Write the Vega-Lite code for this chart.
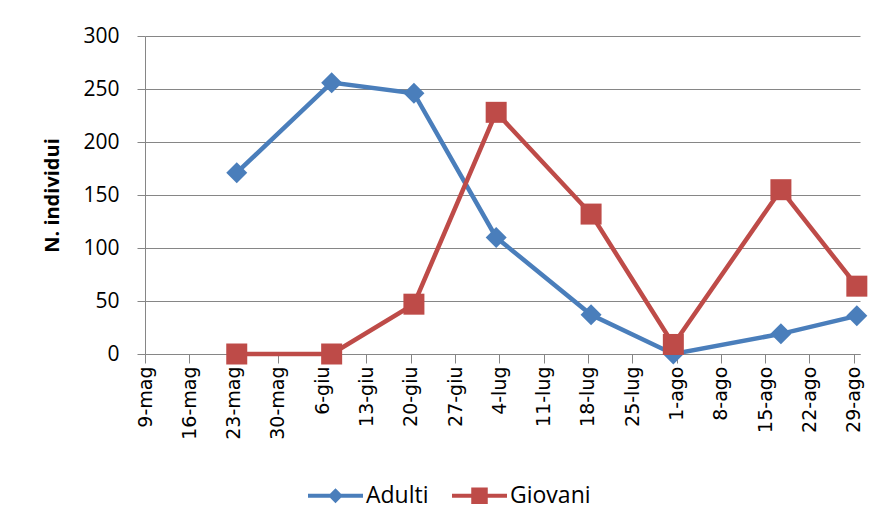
{
  "$schema": "https://vega.github.io/schema/vega-lite/v6.json",
  "width": 715,
  "height": 318,
  "autosize": "none",
  "padding": {"left": 145, "top": 36, "right": 17, "bottom": 177},
  "background": "white",
  "config": {"view": {"stroke": null}, "font": "Open Sans"},
  "data": {
    "values": [
      {"data": "2010-05-23", "serie": "Adulti", "valore": 171},
      {"data": "2010-06-07", "serie": "Adulti", "valore": 256},
      {"data": "2010-06-20", "serie": "Adulti", "valore": 246},
      {"data": "2010-07-03", "serie": "Adulti", "valore": 110},
      {"data": "2010-07-18", "serie": "Adulti", "valore": 37},
      {"data": "2010-07-31", "serie": "Adulti", "valore": 0},
      {"data": "2010-08-17", "serie": "Adulti", "valore": 19},
      {"data": "2010-08-29", "serie": "Adulti", "valore": 36},
      {"data": "2010-05-23", "serie": "Giovani", "valore": 0},
      {"data": "2010-06-07", "serie": "Giovani", "valore": 0},
      {"data": "2010-06-20", "serie": "Giovani", "valore": 47},
      {"data": "2010-07-03", "serie": "Giovani", "valore": 228},
      {"data": "2010-07-18", "serie": "Giovani", "valore": 132},
      {"data": "2010-07-31", "serie": "Giovani", "valore": 9},
      {"data": "2010-08-17", "serie": "Giovani", "valore": 155},
      {"data": "2010-08-29", "serie": "Giovani", "valore": 64}
    ]
  },
  "encoding": {
    "x": {
      "field": "data",
      "type": "temporal",
      "timeUnit": "utcyearmonthdate",
      "bandPosition": 0.5,
      "scale": {
        "type": "utc",
        "nice": false,
        "domain": [
          {"year": 2010, "month": 5, "date": 9, "utc": true},
          {"year": 2010, "month": 8, "date": 30, "utc": true}
        ]
      },
      "axis": {
        "title": null,
        "grid": false,
        "values": [
          {"year": 2010, "month": 5, "date": 9, "utc": true},
          {"year": 2010, "month": 5, "date": 16, "utc": true},
          {"year": 2010, "month": 5, "date": 23, "utc": true},
          {"year": 2010, "month": 5, "date": 30, "utc": true},
          {"year": 2010, "month": 6, "date": 6, "utc": true},
          {"year": 2010, "month": 6, "date": 13, "utc": true},
          {"year": 2010, "month": 6, "date": 20, "utc": true},
          {"year": 2010, "month": 6, "date": 27, "utc": true},
          {"year": 2010, "month": 7, "date": 4, "utc": true},
          {"year": 2010, "month": 7, "date": 11, "utc": true},
          {"year": 2010, "month": 7, "date": 18, "utc": true},
          {"year": 2010, "month": 7, "date": 25, "utc": true},
          {"year": 2010, "month": 8, "date": 1, "utc": true},
          {"year": 2010, "month": 8, "date": 8, "utc": true},
          {"year": 2010, "month": 8, "date": 15, "utc": true},
          {"year": 2010, "month": 8, "date": 22, "utc": true},
          {"year": 2010, "month": 8, "date": 29, "utc": true}
        ],
        "labelExpr": "utcdate(datum.value) + '-' + ['gen','feb','mar','apr','mag','giu','lug','ago','set','ott','nov','dic'][utcmonth(datum.value)]",
        "labelAngle": -90,
        "labelFont": "DejaVu Sans",
        "labelFontSize": 19,
        "labelColor": "#000000",
        "labelPadding": 3,
        "labelOverlap": false,
        "labelFlush": false,
        "labelBound": false,
        "tickSize": 9,
        "tickColor": "#868686",
        "domainColor": "#868686"
      }
    },
    "y": {
      "field": "valore",
      "type": "quantitative",
      "scale": {"domain": [0, 300], "nice": false},
      "axis": {
        "values": [0, 50, 100, 150, 200, 250, 300],
        "title": "N. individui",
        "titleFont": "Open Sans",
        "titleFontSize": 20,
        "titleFontWeight": "bold",
        "titleColor": "#000000",
        "titlePadding": 20,
        "labelFont": "Open Sans",
        "labelFontSize": 21,
        "labelColor": "#000000",
        "labelPadding": 18,
        "tickSize": 8,
        "tickColor": "#868686",
        "domainColor": "#868686",
        "grid": true,
        "gridColor": "#868686"
      }
    }
  },
  "layer": [
    {
      "mark": {"type": "line", "strokeWidth": 4.5},
      "encoding": {
        "color": {
          "field": "serie",
          "type": "nominal",
          "scale": {"domain": ["Adulti", "Giovani"], "range": ["#4A7EBB", "#BE4B48"]},
          "legend": null
        }
      }
    },
    {
      "mark": {"type": "point", "filled": true, "opacity": 1, "size": 441},
      "encoding": {
        "color": {
          "field": "serie",
          "type": "nominal",
          "scale": {"domain": ["Adulti", "Giovani"], "range": ["#4A7EBB", "#BE4B48"]},
          "legend": null
        },
        "shape": {
          "field": "serie",
          "type": "nominal",
          "scale": {"domain": ["Adulti", "Giovani"], "range": ["diamond", "square"]},
          "legend": null
        }
      }
    },
    {
      "transform": [{"filter": "false"}],
      "mark": {"type": "point", "filled": true, "opacity": 1, "size": 3025},
      "encoding": {
        "color": {
          "field": "serie",
          "type": "nominal",
          "scale": {"domain": ["Adulti", "Giovani"], "range": ["#4A7EBB", "#BE4B48"]},
          "legend": {
            "orient": "none", "legendX": 163, "legendY": 432, "direction": "horizontal",
            "title": null, "labelFont": "Open Sans", "labelFontSize": 23, "labelColor": "#000000",
            "symbolSize": 3025, "labelOffset": 3, "columnPadding": 23, "padding": 0, "symbolStrokeWidth": 0
          }
        },
        "shape": {
          "field": "serie",
          "type": "nominal",
          "scale": {
            "domain": ["Adulti", "Giovani"],
            "range": [
              "M-1,-0.075H1V0.075H-1Z M0,-0.27L0.27,0L0,0.27L-0.27,0Z",
              "M-1,-0.075H1V0.075H-1Z M-0.3,-0.3H0.3V0.3H-0.3Z"
            ]
          },
          "legend": {
            "orient": "none", "legendX": 163, "legendY": 432, "direction": "horizontal",
            "title": null, "labelFont": "Open Sans", "labelFontSize": 23, "labelColor": "#000000",
            "symbolSize": 3025, "labelOffset": 3, "columnPadding": 23, "padding": 0, "symbolStrokeWidth": 0
          }
        }
      }
    }
  ],
  "resolve": {"scale": {"color": "independent", "shape": "independent"}}
}
